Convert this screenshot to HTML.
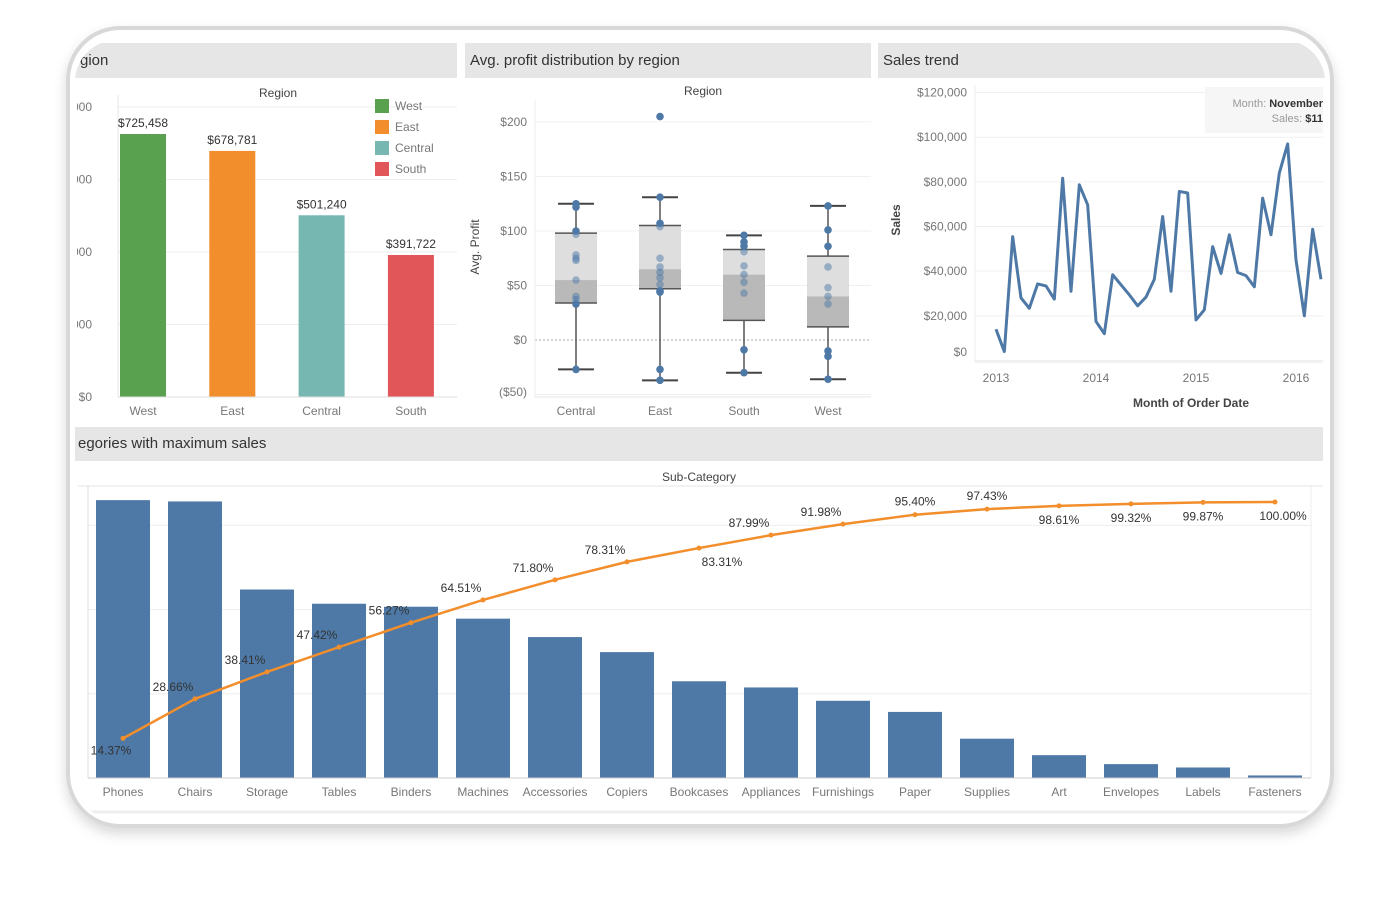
<!DOCTYPE html>
<html><head><meta charset="utf-8"><style>
html,body{margin:0;padding:0;background:#fff;}
svg{display:block;font-family:"Liberation Sans",sans-serif;}
.tk{font-size:12px;fill:#777;}
.hd{font-size:15px;fill:#333;}
.tt{font-size:12px;fill:#444;}
.vl{font-size:12px;fill:#333;}
</style></head><body>
<svg id="s" width="1400" height="904" viewBox="0 0 1400 904">
<defs>
<clipPath id="frame"><rect x="75" y="40" width="1250" height="780" rx="42"/></clipPath>
<clipPath id="p1"><rect x="77" y="40" width="385" height="390"/></clipPath>
<clipPath id="p3"><rect x="878" y="40" width="445" height="390"/></clipPath>
<filter id="sh" x="-5%" y="-5%" width="110%" height="115%"><feDropShadow dx="0" dy="6" stdDeviation="6" flood-color="#000" flood-opacity="0.15"/></filter>
</defs>
<rect x="68" y="28" width="1264" height="798" rx="52" fill="#fff" stroke="#d8d8d8" stroke-width="4" filter="url(#sh)"/>
<g clip-path="url(#frame)">
<rect x="75" y="43" width="382" height="35" fill="#e6e6e6"/>
<text class="hd" x="80" y="65">gion</text>
<rect x="465" y="43" width="406" height="35" fill="#e6e6e6"/>
<text class="hd" x="470" y="65">Avg. profit distribution by region</text>
<rect x="878" y="43" width="447" height="35" fill="#e6e6e6"/>
<text class="hd" x="883" y="65">Sales trend</text>
<rect x="75" y="427" width="1248" height="34" fill="#e6e6e6"/>
<text class="hd" x="78" y="448">egories with maximum sales</text>
<g id="c1" clip-path="url(#p1)"></g>
<g id="c2"></g>
<g id="c3" clip-path="url(#p3)"></g>
<g id="c4"></g>
</g>
</svg>
<script>
// ---- chart 1: sales by region
const regions1 = ["West","East","Central","South"];
const regionSales = [725458,678781,501240,391722];
const regionLabels = ["$725,458","$678,781","$501,240","$391,722"];
const regionColors = ["#59a14f","#f28e2b","#76b7b2","#e15759"];
const ticks1 = [0,200000,400000,600000,800000];
const ticks1Labels = ["$0","$200,000","$400,000","$600,000","$800,000"];
// ---- chart 2: box plot
const regions2 = ["Central","East","South","West"];
const whiskTop = [125,131,96,123];
const q3 = [98,105,83,77];
const med = [55,65,60,40];
const q1 = [34,47,18,12];
const whiskLow = [-27,-37,-30,-36];
const pts = [[125,122,100,97,78,75,73,55,40,37,33,-27],[205,131,107,104,75,67,62,57,51,45,44,-27,-37],[96,90,86,81,68,60,53,43,-9,-30],[123,101,86,67,48,40,33,-10,-15,-36]];
const ticks2 = [-50,0,50,100,150,200];
const ticks2Labels = ["($50)","$0","$50","$100","$150","$200"];
// ---- chart 3: sales trend (thousands, monthly from Jan 2013)
const monthlySales = [14,4,55.5,28,23.4,34.3,33.4,27.5,81.6,31,78.7,69.7,17.5,12,38.4,33.9,29.4,24.5,28.4,36.4,64.5,31,75.7,75,18.2,22.7,51,39,56.3,39.4,38,33,72.7,56.3,84,97,45,20,58.8,36.4];
const ticks3 = [0,20,40,60,80,100,120];
const ticks3Labels = ["$0","$20,000","$40,000","$60,000","$80,000","$100,000","$120,000"];
const years = ["2013","2014","2015","2016"];
// ---- chart 4: pareto
const subCats = ["Phones","Chairs","Storage","Tables","Binders","Machines","Accessories","Copiers","Bookcases","Appliances","Furnishings","Paper","Supplies","Art","Envelopes","Labels","Fasteners"];
const subSales = [330007,328449,223844,206966,203413,189239,167380,149528,114880,107532,91705,78479,46674,27119,16476,12486,3024];
const cumPct = [14.37,28.66,38.41,47.42,56.27,64.51,71.80,78.31,83.31,87.99,91.98,95.40,97.43,98.61,99.32,99.87,100.00];
const labelSide = ["below","above","above","above","above","above","above","above","below","above","above","above","above","below","below","below","below"];

const NS="http://www.w3.org/2000/svg";
function mk(p,tag,at,txt){const e=document.createElementNS(NS,tag);for(const k in at)e.setAttribute(k,at[k]);if(txt!==undefined)e.textContent=txt;p.appendChild(e);return e;}

// chart 1
(function(){
const g=document.getElementById('c1');
const y=v=>397-v*263/725458;
const x=i=>143+i*89.3;
ticks1.forEach((t,i)=>{
 const l=mk(g,'line',{x1:118,x2:457,y1:y(t),y2:y(t),stroke:'#eee'});
 
 const tx=mk(g,'text',{x:92,y:y(t)+4,'text-anchor':'end',class:'tk'},ticks1Labels[i]);
 
});
mk(g,'line',{x1:118,x2:118,y1:95,y2:397,stroke:'#e4e4e4'});
const tl=mk(g,'text',{x:278,y:97,'text-anchor':'middle',class:'tt'},'Region');

regions1.forEach((r,i)=>{
 const b=mk(g,'rect',{x:x(i)-23,y:y(regionSales[i]),width:46,height:397-y(regionSales[i]),fill:regionColors[i]});
 
 const v=mk(g,'text',{x:x(i),y:y(regionSales[i])-7,'text-anchor':'middle',class:'vl'},regionLabels[i]);
 
 const xl=mk(g,'text',{x:x(i),y:415,'text-anchor':'middle',class:'tk'},r);
 
 const sw=mk(g,'rect',{x:375,y:99+i*21,width:14,height:14,fill:regionColors[i]});
 
 const lt=mk(g,'text',{x:395,y:110+i*21,class:'tk',fill:'#555'},r);
 
});
mk(g,'line',{x1:118,x2:457,y1:397,y2:397,stroke:'#ddd'});
})();

// chart 2
(function(){
const g=document.getElementById('c2');
const y=v=>340-v*1.09;
const x=i=>576+i*84;
ticks2.forEach((t,i)=>{
 if(t!==0){const l=mk(g,'line',{x1:535,x2:871,y1:y(t),y2:y(t),stroke:'#f0f0f0'});
 }
 const tx=mk(g,'text',{x:527,y:Math.min(y(t),392)+4,'text-anchor':'end',class:'tk'},ticks2Labels[i]);
 
});
mk(g,'line',{x1:535,x2:871,y1:y(0),y2:y(0),stroke:'#aaa','stroke-dasharray':'2,2'});
mk(g,'line',{x1:535,x2:535,y1:100,y2:398,stroke:'#eee'});
const at=mk(g,'text',{x:0,y:0,'text-anchor':'middle',class:'tt',transform:'translate(479,247) rotate(-90)'},'Avg. Profit');

const rt=mk(g,'text',{x:703,y:95,'text-anchor':'middle',class:'tt'},'Region');

regions2.forEach((r,i)=>{
 const cx=x(i);
 mk(g,'line',{x1:cx,x2:cx,y1:y(whiskTop[i]),y2:y(whiskLow[i]),stroke:'#555','stroke-width':1.5});
 const bu=mk(g,'rect',{x:cx-21,y:y(q3[i]),width:42,height:y(med[i])-y(q3[i]),fill:'#dedede'});
 
 const bl=mk(g,'rect',{x:cx-21,y:y(med[i]),width:42,height:y(q1[i])-y(med[i]),fill:'#b9b9b9'});
 
 [q3[i],q1[i]].forEach(v=>mk(g,'line',{x1:cx-21,x2:cx+21,y1:y(v),y2:y(v),stroke:'#555','stroke-width':1.5}));
 [whiskTop[i],whiskLow[i]].forEach(v=>mk(g,'line',{x1:cx-18,x2:cx+18,y1:y(v),y2:y(v),stroke:'#444','stroke-width':2}));
 pts[i].forEach(v=>{
  const inside=v<q3[i]&&v>q1[i];
  const c=mk(g,'circle',{cx:cx,cy:y(v),r:3.8,fill:'#4e79a7','fill-opacity':inside?0.5:1});
  
 });
 const xl=mk(g,'text',{x:cx,y:415,'text-anchor':'middle',class:'tk'},r);
 
});
mk(g,'line',{x1:535,x2:871,y1:397,y2:397,stroke:'#e4e4e4'});
})();

// chart 3
(function(){
const g=document.getElementById('c3');
const y=v=>360.5-v*2.233;
const x=i=>996+i*100/12;
ticks3.forEach((t,i)=>{
 const l=mk(g,'line',{x1:975,x2:1325,y1:y(t),y2:y(t),stroke:'#f0f0f0'});
 
 const tx=mk(g,'text',{x:967,y:Math.min(y(t),352)+4,'text-anchor':'end',class:'tk'},ticks3Labels[i]);
 
});
mk(g,'line',{x1:975,x2:975,y1:85,y2:362,stroke:'#eee'});
mk(g,'line',{x1:975,x2:1325,y1:362,y2:362,stroke:'#e4e4e4'});
years.forEach((yr,i)=>{
 const t=mk(g,'text',{x:x(i*12),y:382,'text-anchor':'middle',class:'tk'},yr);
 
});
const tb=mk(g,'rect',{x:1205,y:87,width:120,height:46,fill:'#f6f6f6'});

const t1=mk(g,'text',{x:1323,y:107,'text-anchor':'end','font-size':11,fill:'#999'});
t1.innerHTML='Month: <tspan fill="#333" font-weight="bold">November</tspan>';

const t2=mk(g,'text',{x:1323,y:122,'text-anchor':'end','font-size':11,fill:'#999'});
t2.innerHTML='Sales: <tspan fill="#333" font-weight="bold">$11</tspan>';

const p=mk(g,'polyline',{points:monthlySales.map((v,i)=>x(i)+','+y(v)).join(' '),fill:'none',stroke:'#4e79a7','stroke-width':3,'stroke-linejoin':'round'});

const st=mk(g,'text',{x:0,y:0,'text-anchor':'middle',class:'tt','font-weight':'bold',transform:'translate(900,220) rotate(-90)'},'Sales');

const xt=mk(g,'text',{x:1191,y:407,'text-anchor':'middle',class:'tt','font-weight':'bold'},'Month of Order Date');

})();

// chart 4
(function(){
const g=document.getElementById('c4');
const y=v=>778-v*0.000842;
const yp=v=>778-v*2.76;
const x=i=>123+i*72;
[0,100000,200000,300000].forEach(t=>{
 const l=mk(g,'line',{x1:88,x2:1311,y1:y(t),y2:y(t),stroke:'#eee'});
 
});
mk(g,'line',{x1:78,x2:1323,y1:486,y2:486,stroke:'#e4e4e4'});
mk(g,'line',{x1:88,x2:88,y1:486,y2:778,stroke:'#ddd'});
mk(g,'line',{x1:1311,x2:1311,y1:486,y2:778,stroke:'#eee'});
const sc=mk(g,'text',{x:699,y:481,'text-anchor':'middle',class:'tt'},'Sub-Category');

subCats.forEach((c,i)=>{
 const b=mk(g,'rect',{x:x(i)-27,y:y(subSales[i]),width:54,height:778-y(subSales[i]),fill:'#4e79a7'});
 
 const t=mk(g,'text',{x:x(i),y:796,'text-anchor':'middle',class:'tk'},c);
 
});
mk(g,'line',{x1:88,x2:1311,y1:778,y2:778,stroke:'#ccc'});
const ln=mk(g,'polyline',{points:cumPct.map((v,i)=>x(i)+','+yp(v)).join(' '),fill:'none',stroke:'#f28e2b','stroke-width':2.5});

cumPct.forEach((v,i)=>{
 const c=mk(g,'circle',{cx:x(i),cy:yp(v),r:2.5,fill:'#f28e2b'});
 
 let dx,dy;
 if(i===0){dx=-12;dy=16;}
 else if(labelSide[i]==='below'){dx=i===8?23:(i===16?8:0);dy=18;}
 else if(i>=11){dx=0;dy=-9;}
 else {dx=-22;dy=-8;}
 const t=mk(g,'text',{x:x(i)+dx,y:yp(v)+dy,'text-anchor':'middle',class:'vl'},v.toFixed(2)+'%');
 
});
mk(g,'line',{x1:78,x2:1323,y1:812,y2:812,stroke:'#eee','stroke-width':3});
})();
</script>
</body></html>
